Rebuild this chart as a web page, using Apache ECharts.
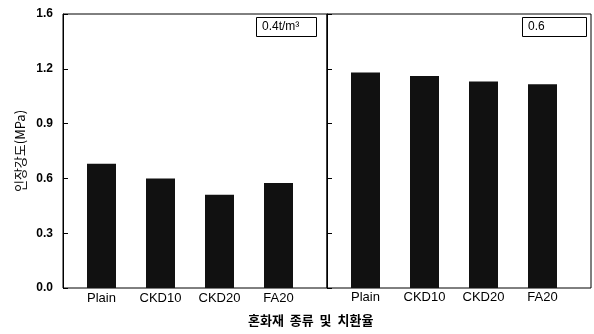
<!DOCTYPE html>
<html><head><meta charset="utf-8">
<script src="https://cdn.jsdelivr.net/npm/echarts@6/dist/echarts.min.js"></script>
<style>html,body{margin:0;padding:0;background:#fff}#c{width:594px;height:334px}</style>
</head><body><div id="c"></div>
<script>
const categories = ["Plain", "CKD10", "CKD20", "FA20"];
const leftValues = [0.68, 0.60, 0.51, 0.575];
const rightValues = [1.18, 1.16, 1.13, 1.115];
const yTickLabels = ["0.0", "0.3", "0.6", "0.9", "1.2", "1.6"];
const leftPanelLabel = "0.4t/m³";
const rightPanelLabel = "0.6";
const yTitle = "인장강도(MPa)";
const xTitle = "혼화재 종류 및 치환율";

const FONT = "'Liberation Sans', Arial, sans-serif";
const KFONT = "'Noto Sans CJK KR', sans-serif";
const TOP = 14, H = 274;
const yBase = {type: 'value', min: 0, max: 1.5, interval: 0.3};

const chart = echarts.init(document.getElementById('c'), null, {renderer: 'canvas'});
chart.setOption({
  animation: false,
  backgroundColor: '#fff',
  title: [
    {text: leftPanelLabel, left: 256, top: 17, padding: [4, 17, 4, 6], borderWidth: 1, borderColor: '#000',
     textStyle: {fontSize: 12, fontWeight: 'normal', color: '#000', fontFamily: FONT}},
    {text: rightPanelLabel, left: 522, top: 17, padding: [4, 42, 4, 6], borderWidth: 1, borderColor: '#000',
     textStyle: {fontSize: 12, fontWeight: 'normal', color: '#000', fontFamily: FONT}}
  ],
  grid: [
    {left: 63, top: TOP, width: 264, height: H, show: true, borderColor: '#000', borderWidth: 1, backgroundColor: 'transparent'},
    {left: 72, top: TOP, width: 236, height: H},
    {left: 327, top: TOP, width: 264, height: H, show: true, borderColor: '#000', borderWidth: 1, backgroundColor: 'transparent'},
    {left: 336, top: TOP, width: 236, height: H}
  ],
  xAxis: [
    {gridIndex: 0, type: 'value', show: false, min: 0, max: 1},
    {gridIndex: 1, type: 'category', data: categories, axisLine: {show: false}, axisTick: {show: false},
     axisLabel: {fontSize: 13, color: '#000', margin: 4, fontFamily: FONT}},
    {gridIndex: 2, type: 'value', show: false, min: 0, max: 1},
    {gridIndex: 3, type: 'category', data: categories, axisLine: {show: false}, axisTick: {show: false},
     axisLabel: {fontSize: 13, color: '#000', margin: 3, fontFamily: FONT}}
  ],
  yAxis: [
    Object.assign({gridIndex: 0, axisLine: {show: true, lineStyle: {color: '#000'}},
     axisTick: {show: true, inside: true, length: 5, lineStyle: {color: '#000'}},
     splitLine: {show: false},
     axisLabel: {fontSize: 12, fontWeight: 'bold', color: '#000', margin: 10, fontFamily: FONT,
       formatter: (v) => yTickLabels[Math.round(v / 0.3)]},
     name: yTitle, nameLocation: 'middle', nameGap: 36, nameRotate: 90,
     nameTextStyle: {fontSize: 13, color: '#000', fontFamily: KFONT}}, yBase),
    Object.assign({gridIndex: 1, show: false}, yBase),
    Object.assign({gridIndex: 2, axisLine: {show: true, lineStyle: {color: '#000'}},
     axisTick: {show: true, inside: true, length: 5, lineStyle: {color: '#000'}},
     splitLine: {show: false}, axisLabel: {show: false}}, yBase),
    Object.assign({gridIndex: 3, show: false}, yBase)
  ],
  graphic: [
    {type: 'text', left: 248, top: 314, style: {text: xTitle.split(' ').join('  '), fontSize: 13, fill: '#000',
      fontFamily: KFONT, fontWeight: 'bold'}}
  ],
  series: [
    {type: 'bar', xAxisIndex: 1, yAxisIndex: 1, data: leftValues, barWidth: 29,
     itemStyle: {color: '#111'}},
    {type: 'bar', xAxisIndex: 3, yAxisIndex: 3, data: rightValues, barWidth: 29,
     itemStyle: {color: '#111'}}
  ]
});
</script></body></html>
